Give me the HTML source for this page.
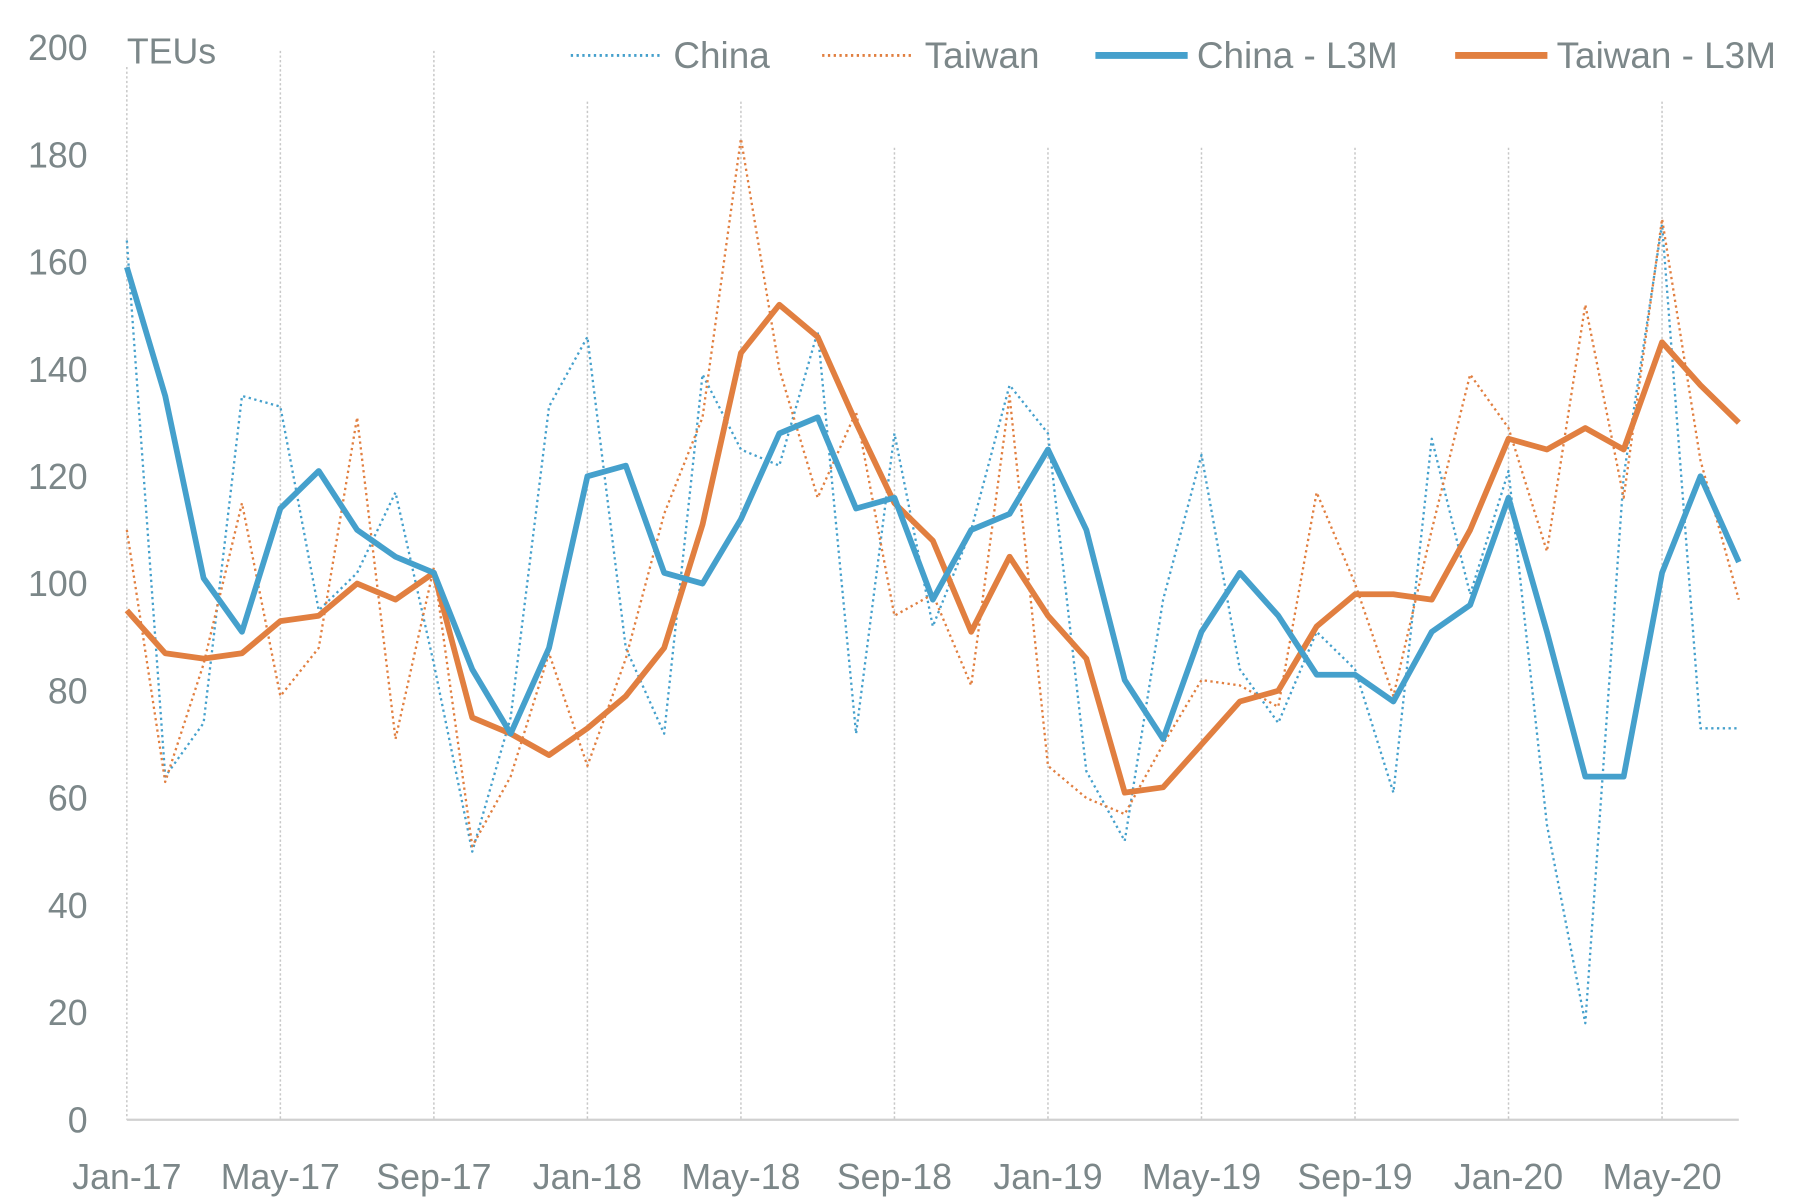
<!DOCTYPE html>
<html><head><meta charset="utf-8"><style>
html,body{margin:0;padding:0;background:#fff;}
svg{display:block;}
text{font-family:"Liberation Sans Narrow","Liberation Sans",sans-serif;fill:#7c8789;}
</style></head><body>
<svg id="c" width="1808" height="1204" viewBox="0 0 1568 1044" xmlns="http://www.w3.org/2000/svg"></svg>
<script>
const svg=document.getElementById('c');const NS='http://www.w3.org/2000/svg';
function el(t,a,txt){const e=document.createElementNS(NS,t);for(const k in a)e.setAttribute(k,a[k]);if(txt!==undefined)e.textContent=txt;svg.appendChild(e);return e;}
const X=m=>110+m*1398/42, Y=v=>971-v*4.65;
const tops=[58,44,44,88,88,128,128,128,128,128,88];
const labs=['Jan-17','May-17','Sep-17','Jan-18','May-18','Sep-18','Jan-19','May-19','Sep-19','Jan-20','May-20'];
labs.forEach((l,i)=>{const x=X(i*4);
 el('line',{x1:x,y1:tops[i],x2:x,y2:971,stroke:'#c8c8c8','stroke-width':1.3,'stroke-dasharray':'2,2'});
 el('text',{x:x,y:1031,'font-size':31,'text-anchor':'middle'},l);});
el('line',{x1:110,y1:971,x2:1508,y2:971,stroke:'#d0d0d0','stroke-width':2});
for(let v=0;v<=200;v+=20) el('text',{x:76,y:Y(v)+11,'font-size':31,'text-anchor':'end'},v);
el('text',{x:110,y:55,'font-size':31},'TEUs');
const cn=[164,64,74,135,133,95,102,117,85,50,75,133,146,88,72,139,125,122,147,72,128,92,110,137,128,65,52,97,124,84,74,91,84,61,127,98,121,55,18,120,167,73,73];
const tw=[110,63,85,115,79,88,131,71,103,51,64,87,66,86,113,131,183,140,116,132,94,98,81,135,66,60,57,70,82,81,77,117,100,79,110,139,129,106,152,116,168,123,97];
const cl=[159,135,101,91,114,121,110,105,102,84,72,88,120,122,102,100,112,128,131,114,116,97,110,113,125,110,82,71,91,102,94,83,83,78,91,96,116,91,64,64,102,120,104];
const tl=[95,87,86,87,93,94,100,97,102,75,72,68,73,79,88,111,143,152,146,130,115,108,91,105,94,86,61,62,70,78,80,92,98,98,97,110,127,125,129,125,145,137,130];
const B='#45a0cc',O='#e17f40';
function line(d,c,w,dash){el('polyline',{points:d.map((v,i)=>X(i)+','+Y(v)).join(' '),fill:'none',stroke:c,'stroke-width':w,'stroke-linejoin':'round','stroke-dasharray':dash||'none'});}
line(cn,B,2,'2,3');line(tw,O,2,'2,3');line(tl,O,5);line(cl,B,5);
el('line',{x1:495,y1:48,x2:572,y2:48,stroke:B,'stroke-width':2.5,'stroke-dasharray':'2,3'});
el('text',{x:584,y:59,'font-size':32},'China');
el('line',{x1:713,y1:48,x2:790,y2:48,stroke:O,'stroke-width':2.5,'stroke-dasharray':'2,3'});
el('text',{x:802,y:59,'font-size':32},'Taiwan');
el('line',{x1:950,y1:48,x2:1030,y2:48,stroke:B,'stroke-width':6});
el('text',{x:1038,y:59,'font-size':32},'China - L3M');
el('line',{x1:1262,y1:48,x2:1342,y2:48,stroke:O,'stroke-width':6});
el('text',{x:1350,y:59,'font-size':32},'Taiwan - L3M');
</script>
</body></html>
